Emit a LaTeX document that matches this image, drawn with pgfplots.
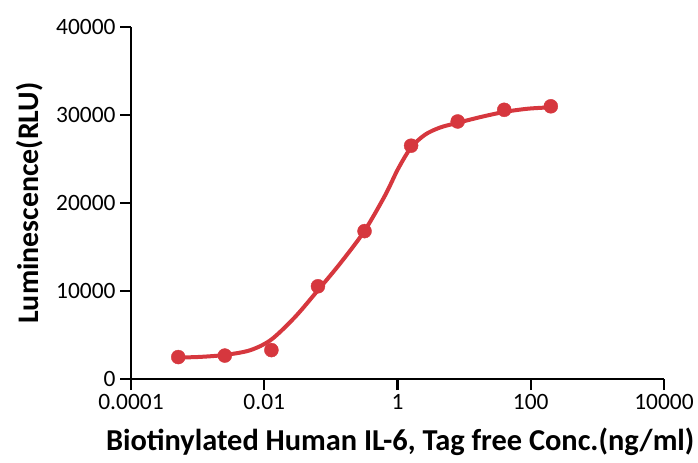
\documentclass[border=0pt]{standalone}
\usepackage{fontspec}
\setmainfont{Carlito}
\usepackage{pgfplots}
\pgfplotsset{compat=1.18}
\definecolor{cred}{RGB}{214,55,62}
\begin{document}
\begin{tikzpicture}
\useasboundingbox (0,0) rectangle (698bp,463bp);
\begin{axis}[
  at={(131bp,84bp)}, anchor=south west,
  scale only axis, width=533bp, height=352bp,
  xmode=log, xmin=1e-4, xmax=1e4, ymin=0, ymax=40000,
  axis lines=left, axis line style={line width=2.6bp, -},
  xtick={1e-4,1e-2,1,1e2,1e4}, xticklabels={0.0001,0.01,1,100,10000},
  ytick={0,10000,20000,30000,40000}, yticklabels={0,10000,20000,30000,40000},
  scaled y ticks=false, scaled x ticks=false,
  minor xtick={}, minor ytick={},
  tick align=outside, major tick length=11bp,
  tick style={line width=2.4bp, black},
  tick label style={font=\fontsize{23.5}{26}\selectfont},
  xticklabel style={yshift=-1bp},
  yticklabel style={xshift=-1bp},
  xlabel={Biotinylated Human IL-6, Tag free Conc.(ng/ml)},
  ylabel={Luminescence(RLU)},
  xlabel style={font=\bfseries\fontsize{30.5}{34}\selectfont, at={(axis description cs:0.505,-0.203)}, anchor=base},
  ylabel style={font=\bfseries\fontsize{30}{34}\selectfont, at={(axis description cs:-0.19,0.5)}, anchor=center},
  clip=false,
]
\addplot[cred, line width=4bp, smooth, no marks] coordinates {
(0.000507,2436) (0.0010854,2511) (0.002576,2737) (0.006110,3263)
(0.012626,4453) (0.02893,7036) (0.06409,10095) (0.1371,13109)
(0.3142,16746) (0.6492,20847) (1.0174,23861) (1.595,26297)
(2.587,27759) (4.345,28574) (7.818,29095) (17.31,29753)
(39.67,30342) (90.9,30716) (201.3,30874)
};
\addplot[only marks, mark=*, mark size=7bp, mark options={fill=cred, draw=cred}] coordinates {
(0.000512,2493) (0.00256,2663) (0.0128,3286) (0.064,10537) (0.32,16802)
(1.6,26512) (8,29265) (40,30591) (200,30988)
};
\end{axis}
\end{tikzpicture}
\end{document}
